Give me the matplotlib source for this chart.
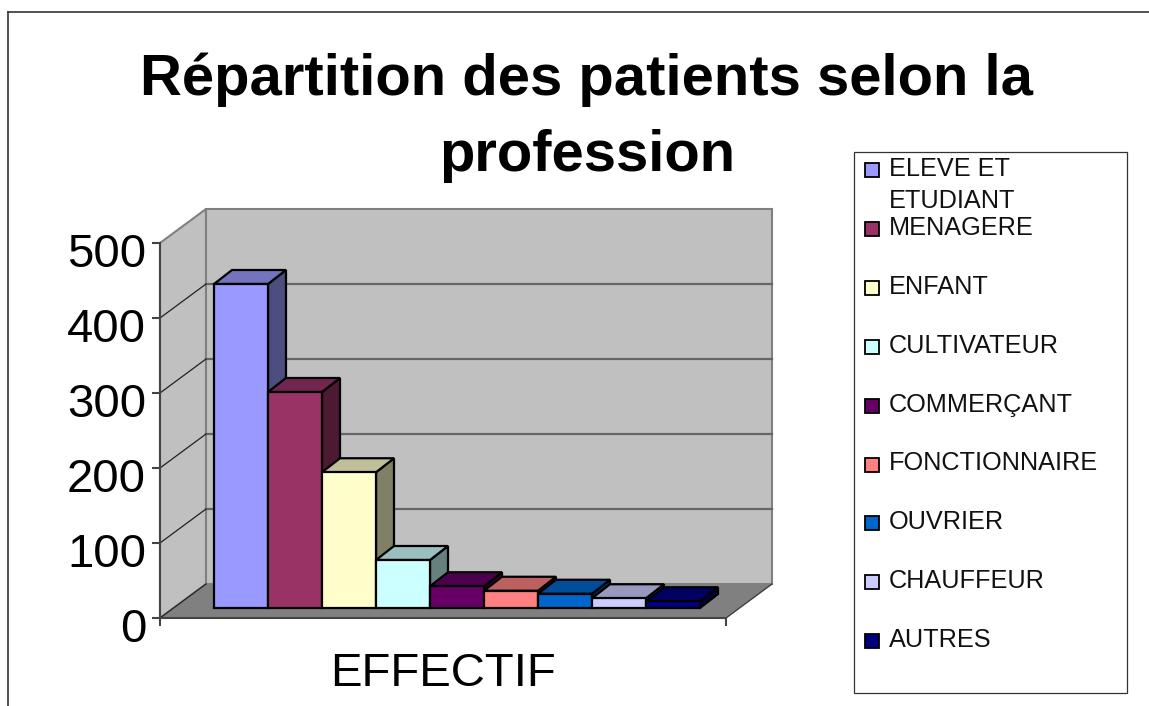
import matplotlib
matplotlib.use("Agg")
import matplotlib.pyplot as plt
from matplotlib.patches import Rectangle
from matplotlib.colors import to_rgb
from matplotlib.transforms import ScaledTranslation

plt.rcParams["font.family"] = ["Liberation Sans", "DejaVu Sans"]

categories = ["ELEVE ET\nETUDIANT", "MENAGERE", "ENFANT", "CULTIVATEUR", "COMMERÇANT",
              "FONCTIONNAIRE", "OUVRIER", "CHAUFFEUR", "AUTRES"]
values = [432, 288, 181, 64, 29, 23, 19, 13, 9]
colors = ["#9999FF", "#993366", "#FFFFCC", "#CCFFFF", "#660066",
          "#FF8080", "#0066CC", "#CCCCFF", "#000080"]
yticks = [0, 100, 200, 300, 400, 500]
series_label = "EFFECTIF"
title_lines = ["Répartition des patients selon la", "profession"]

W, H = 1149, 706
# front plane of the fake 3d box, in pixels
L, R, T, B = 160, 726, 243, 618
BAR_PX = 54
PX_Y = (B - T) / 500
PX_X = BAR_PX


def shade(c, f):
    return tuple(v * f for v in to_rgb(c))


fig = plt.figure(figsize=(W / 100, H / 100), dpi=100, facecolor="white")

# page furniture in pixel coords
bg = fig.add_axes([0, 0, 1, 1])
bg.set_xlim(0, W)
bg.set_ylim(H, 0)
bg.axis("off")
bg.plot([8, 8], [H, 12], color="#333333", lw=1.2)
bg.plot([8, W], [12, 12], color="#333333", lw=1.2)
bg.text(587, 80, title_lines[0], ha="center", va="center", fontsize=41.8, fontweight="bold")
bg.text(587, 156, title_lines[1], ha="center", va="center", fontsize=41.8, fontweight="bold")

# legend
bg.add_patch(Rectangle((854, 152), 273, 541, fc="white", ec="#333333", lw=0.9))
for i, (name, col) in enumerate(zip(categories, colors)):
    yc = 170 + i * 58.9
    bg.add_patch(Rectangle((865, yc - 7), 14, 14, fc=col, ec="black", lw=1.3))
    if i == 0:
        first, second = name.split("\n")
        bg.text(889, 169, first, ha="left", va="center", fontsize=18.2, color="#111111")
        bg.text(889, 201, second, ha="left", va="center", fontsize=18.2, color="#111111")
    else:
        bg.text(889, yc - 1, name, ha="left", va="center", fontsize=18.2, color="#111111")

ax = fig.add_axes([L / W, 1 - B / H, (R - L) / W, (B - T) / H])
ax.patch.set_alpha(0)
ax.set_xlim(0, (R - L) / BAR_PX)
ax.set_ylim(0, 500)

dx = 46 / PX_X
dy = 34 / PX_Y
xmax = ax.get_xlim()[1]
wall = "#C0C0C0"
edge = "#808080"

# floor, side wall, back wall
ax.fill([0, xmax, xmax + dx, dx], [0, 0, dy, dy], color="#808080", clip_on=False, zorder=1, lw=0)
ax.fill([0, dx, dx, 0], [0, dy, 500 + dy, 500], fc=wall, ec=edge, lw=1.5, clip_on=False, zorder=1)
ax.fill([dx, xmax + dx, xmax + dx, dx], [dy, dy, 500 + dy, 500 + dy], fc=wall, ec=edge, lw=1.5,
        clip_on=False, zorder=1)
ax.plot([xmax, xmax + dx], [0, dy], color="#404040", lw=1, clip_on=False, zorder=1)

# gridlines
for t in yticks[1:-1]:
    ax.plot([dx, xmax + dx], [t + dy, t + dy], color="#666666", lw=1.6, clip_on=False, zorder=2)
    ax.plot([0, dx], [t, t + dy], color="#222222", lw=0.9, clip_on=False, zorder=2)
ax.plot([0, dx], [0, dy], color="#222222", lw=0.9, clip_on=False, zorder=2)

# bars, left to right so each front hides the previous side
gap_x = 1.0
gap_y = 10 / PX_Y
bx = 18 / PX_X
by = 14 / PX_Y
for i, (v, col) in enumerate(zip(values, colors)):
    x0 = gap_x + i
    x1 = x0 + 1
    y0 = gap_y
    y1 = gap_y + v
    z = 3 + i
    ax.fill([x1, x1 + bx, x1 + bx, x1], [y0, y0 + by, y1 + by, y1], fc=shade(col, 0.5), ec="black",
            lw=1.6, joinstyle="miter", clip_on=False, zorder=z)
    ax.fill([x0, x1, x1 + bx, x0 + bx], [y1, y1, y1 + by, y1 + by], fc=shade(col, 0.75), ec="black",
            lw=1.6, joinstyle="miter", clip_on=False, zorder=z)
    ax.fill([x0, x1, x1, x0], [y0, y0, y1, y1], fc=col, ec="black", lw=1.6, joinstyle="miter",
            clip_on=False, zorder=z)

for s in ["top", "right"]:
    ax.spines[s].set_visible(False)
for s in ["left", "bottom"]:
    ax.spines[s].set_color("#444444")
    ax.spines[s].set_linewidth(1.5)
    ax.spines[s].set_zorder(2)
ax.set_yticks(yticks)
ax.tick_params(axis="y", length=6, width=1.5, color="#444444", labelsize=34, pad=4)
ax.set_xticks([0, xmax])
ax.set_xticklabels(["", ""])
ax.tick_params(axis="x", length=6, width=1.5, color="#444444")
ax.set_xlabel(series_label, fontsize=34, labelpad=15)

# labels sit a little below their ticks in the reference
shift = ScaledTranslation(0, -0.07, fig.dpi_scale_trans)
for lab in ax.get_yticklabels():
    lab.set_transform(lab.get_transform() + shift)

fig.savefig("out.png", dpi=100)
